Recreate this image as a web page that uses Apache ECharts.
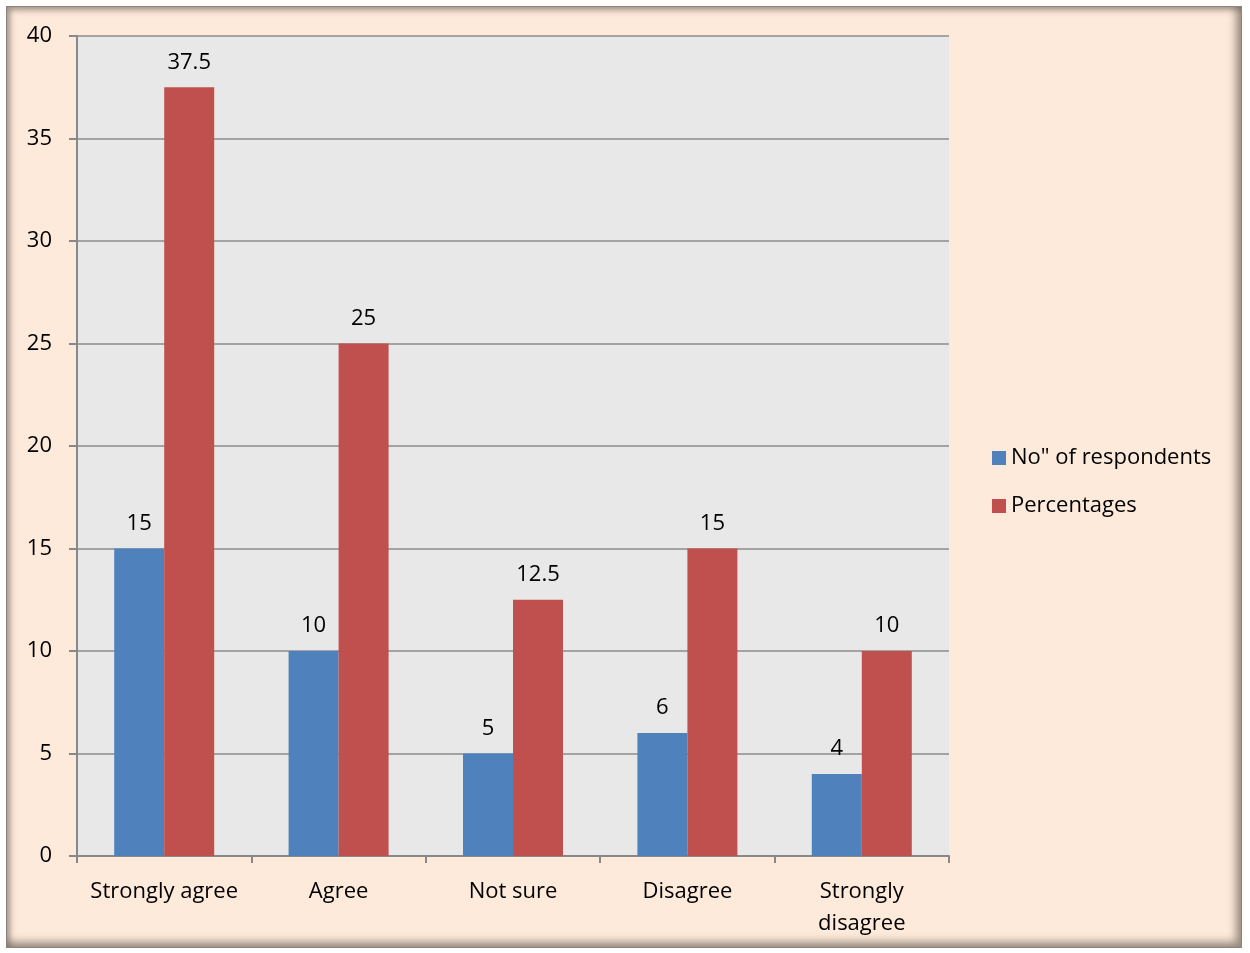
<!DOCTYPE html>
<html><head><meta charset="utf-8">
<script src="https://cdn.jsdelivr.net/npm/echarts@6/dist/echarts.min.js"></script>
<style>
html,body{margin:0;padding:0;background:#fff;}
#frame{position:absolute;left:6px;top:6px;width:1234px;height:940px;background:#FDEADA;border:1px solid #8a8480;box-shadow:inset 3px 3px 6px rgba(90,80,70,0.55), inset -5px -5px 8px rgba(90,80,70,0.6);}
#main{position:absolute;left:0;top:0;width:1250px;height:953px;}
</style></head>
<body>
<div id="frame"></div>
<div id="main"></div>
<script>
const categories = ['Strongly agree', 'Agree', 'Not sure', 'Disagree', 'Strongly\ndisagree'];
const respondents = [15, 10, 5, 6, 4];
const percentages = [37.5, 25, 12.5, 15, 10];
const seriesNames = ['No" of respondents', 'Percentages'];

const chart = echarts.init(document.getElementById('main'), null, {renderer:'canvas'});
const font = '"Open Sans", Lato, sans-serif';
const lbl = {show:true, position:'top', color:'#000', fontSize:22, fontFamily:font, distance:14};
chart.setOption({
  backgroundColor:'transparent',
  animation:false,
  grid:{left:77, top:36, width:872, height:820, show:true, backgroundColor:'#e8e8e8', borderWidth:0},
  legend:{orient:'vertical', left:987, top:442, itemWidth:14, itemHeight:14, itemGap:26,
    icon:'rect', textStyle:{fontSize:22, fontFamily:font, color:'#000'}, data:seriesNames},
  xAxis:{type:'category', data:categories,
    axisLine:{lineStyle:{color:'#888', width:2}},
    axisTick:{show:true, interval:0, length:7, lineStyle:{color:'#888', width:2}},
    axisLabel:{interval:0, fontSize:22, fontFamily:font, color:'#000', margin:20, lineHeight:32}},
  yAxis:{type:'value', min:0, max:40, interval:5,
    axisLine:{show:true, lineStyle:{color:'#888', width:2}},
    axisTick:{show:true, length:8, lineStyle:{color:'#888', width:2}},
    splitLine:{lineStyle:{color:'#8c8c8c', width:1.5}},
    axisLabel:{fontSize:22, fontFamily:font, color:'#000', margin:25}},
  series:[
    {name:seriesNames[0], type:'bar', data:respondents, barWidth:50, barGap:'0%',
     itemStyle:{color:'#4F81BD'}, label:lbl},
    {name:seriesNames[1], type:'bar', data:percentages, barWidth:50,
     itemStyle:{color:'#C0504D'}, label:lbl}
  ]
});
</script>
</body></html>
